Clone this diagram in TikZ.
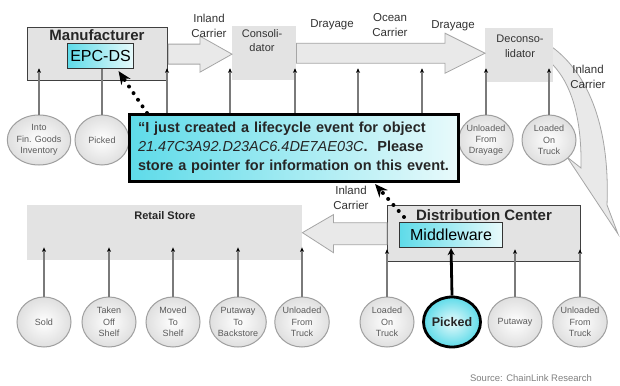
\documentclass[tikz,border=0pt]{standalone}
\usepackage{fontspec}
\setmainfont{Liberation Sans}
\usetikzlibrary{arrows.meta,calc,shapes.geometric}
\definecolor{boxgray}{HTML}{E3E3E3}
\definecolor{arrgray}{HTML}{E9E9E9}
\definecolor{arredge}{HTML}{A6A6A6}
\definecolor{linegray}{HTML}{7A7A7A}
\definecolor{txtgray}{HTML}{5A5A5A}
\definecolor{cyanA}{HTML}{5EDBE9}
\definecolor{cyanB}{HTML}{E8FAFB}
\begin{document}
\begin{tikzpicture}[x=1pt,y=-1pt,
  stage/.style={fill=boxgray,draw=none,anchor=north west,inner sep=0pt},
  site/.style={fill=boxgray,draw=black!75,line width=1.3pt,anchor=north west,inner sep=0pt},
  cyanbox/.style={left color=cyanA,right color=cyanB,draw=black!80,line width=1.1pt,anchor=north west,inner sep=0pt},
  evt/.style={ellipse,minimum width=54pt,minimum height=50pt,inner sep=0pt,draw=gray!75,line width=1pt,
    inner color=white,outer color=gray!25,font=\fontsize{9}{11.3}\selectfont,text=txtgray,align=center},
  flow/.style={fill=arrgray,draw=arredge,line width=0.8pt},
  feed/.style={draw=linegray,line width=1.1pt,-{Stealth[length=4.5pt,width=4pt,color=black]}},
  plainfeed/.style={draw=linegray,line width=1.1pt},
  hot/.style={draw=black,line width=2.8pt,-{Stealth[length=7pt,width=7pt]}},
  dotarrow/.style={draw=black,line width=4pt,dash pattern=on 0pt off 8pt,line cap=round,
    -{Stealth[length=13pt,width=11pt]}},
  boxtitle/.style={font=\fontsize{15}{15}\bfseries,text=black!85,inner sep=0pt},
  stagelbl/.style={font=\fontsize{11}{14.5}\selectfont,text=black!80,align=center,inner sep=0pt},
  carrier/.style={font=\fontsize{11.5}{15}\selectfont,text=black!80,align=center,inner sep=0pt}]
\useasboundingbox (0,0) rectangle (620,385);
\fill[white] (0,0) rectangle (620,385);

% curved inland carrier arrow
\path[flow] (552,47) .. controls (590,75) and (610,130) .. (607,205) -- (618,234) -- (567,157) -- (581,168)
  .. controls (582,115) and (570,80) .. (549,61) -- cycle;

% boxes
\node[site,minimum width=140pt,minimum height=53pt] (mfr) at (27,27) {};
\node[stage,minimum width=64pt,minimum height=54pt] (cons) at (232,26) {};
\node[stage,minimum width=68pt,minimum height=54pt] (decons) at (485,28) {};
\node[stage,minimum width=275pt,minimum height=55pt] (retail) at (27,205) {};
\node[site,minimum width=193pt,minimum height=56pt] (dc) at (387,205) {};

% block arrows
\path[flow] let \p1=(mfr.east), \p2=(cons.west) in
  (\x1,\y1+10pt) -- (\x2-32pt,\y1+10pt) -- (\x2-32pt,\y1+18pt) -- (\x2,\y1) -- (\x2-32pt,\y1-18pt)
  -- (\x2-32pt,\y1-10pt) -- (\x1,\y1-10pt) -- cycle;
\path[flow] let \p1=(cons.east), \p2=(decons.west) in
  (\x1,\y1+10pt) -- (\x2-40pt,\y1+10pt) -- (\x2-40pt,\y1+20pt) -- (\x2,\y1) -- (\x2-40pt,\y1-20pt)
  -- (\x2-40pt,\y1-10pt) -- (\x1,\y1-10pt) -- cycle;
\path[flow] let \p1=(dc.west), \p2=(retail.east) in
  (\x1,\y1+11pt) -- (\x2+31pt,\y1+11pt) -- (\x2+31pt,\y1+19pt) -- (\x2,\y1+1pt) -- (\x2+31pt,\y1-19pt)
  -- (\x2+31pt,\y1-11pt) -- (\x1,\y1-11pt) -- cycle;

% titles and labels
\node[boxtitle] (mfrt) at (97,35) {Manufacturer};
\node[cyanbox,minimum width=66pt,minimum height=25pt,font=\fontsize{16}{16}\selectfont] (epc) at (67,43) {EPC-DS};
\node[stagelbl] (consl) at (262,40.5) {Consoli-\\dator};
\node[stagelbl] (deconsl) at (520,46.5) {Deconso-\\lidator};
\node[boxtitle,font=\fontsize{11}{11}\bfseries] (retailt) at (165,216) {Retail Store};
\node[boxtitle] (dct) at (484,215) {Distribution Center};
\node[cyanbox,minimum width=103pt,minimum height=25pt,font=\fontsize{16}{16}\selectfont] (mw) at (399,222) {Middleware};

\node[carrier] (l1) at (209,25.5) {Inland\\Carrier};
\node[carrier] (l2) at (332,25) {Drayage};
\node[carrier] (l3) at (390,25.5) {Ocean\\Carrier};
\node[carrier] (l4) at (453,26) {Drayage};
\node[carrier] (l5) at (588,77) {Inland\\Carrier};
\node[carrier] (l6) at (351,198) {Inland\\Carrier};

% top event circles
\node[evt] (t1) at (39,140) {Into\\Fin. Goods\\Inventory};
\node[evt] (t2) at (102,140) {Picked};
\node[evt] (t8) at (486,140) {Unloaded\\From\\Drayage};
\node[evt] (t9) at (549,140) {Loaded\\On\\Truck};
\coordinate (t3) at (167,113);
\coordinate (t4) at (230,113);
\coordinate (t5) at (295,113);
\coordinate (t6) at (358,113);
\coordinate (t7) at (422,113);

\draw[feed] (t1.north) -- ($(t1.north |- mfr.south)+(0,-13)$);
\draw[plainfeed] (t2.north) -- (t2.north |- epc.south);
\foreach \c in {t3,t4,t5,t6,t7} \draw[feed] (\c) -- ($(\c |- mfr.south)+(0,-13)$);
\draw[feed] (t8.north) -- ($(t8.north |- mfr.south)+(0,-13)$);
\draw[feed] (t9.north) -- ($(t9.north |- mfr.south)+(0,-13)$);

% bottom event circles
\node[evt] (b1) at (44,322) {Sold};
\node[evt] (b2) at (109,322) {Taken\\Off\\Shelf};
\node[evt] (b3) at (173,322) {Moved\\To\\Shelf};
\node[evt] (b4) at (238,322) {Putaway\\To\\Backstore};
\node[evt] (b5) at (302,322) {Unloaded\\From\\Truck};
\node[evt] (b6) at (387,322) {Loaded\\On\\Truck};
\node[evt,draw=black,line width=2.8pt,inner color=cyanB,outer color=cyanA,
  font=\fontsize{12.5}{12.5}\bfseries,text=black!85] (pk) at (452,322) {Picked};
\node[evt] (b8) at (515,322) {Putaway};
\node[evt] (b9) at (580,322) {Unloaded\\From\\Truck};

\foreach \c in {b1,b2,b3,b4,b5} \draw[feed] (\c.north) -- ($(\c.north |- retail.south)+(0,-13)$);
\foreach \c in {b6,b8,b9} \draw[feed] (\c.north) -- ($(\c.north |- dc.south)+(0,-13)$);
\draw[hot] (pk.north) -- (mw.south);

% call-out
\node[anchor=north west,draw=black,line width=3pt,left color=cyanA,right color=cyanB,
  minimum width=329pt,minimum height=67pt,text width=312pt,inner xsep=8pt,align=left,
  font=\fontsize{14.5}{19}\bfseries,text=black!85] (msg) at (128,113)
  {“I just created a lifecycle event for object\\
   {\mdseries\itshape 21.47C3A92.D23AC6.4DE7AE03C}.\ \ Please\\
   store a pointer for information on this event.};

\draw[dotarrow] ($(msg.north west)+(19,0)$) -- ($(epc.south)+(18,2)$);
\draw[dotarrow] ($(mw.north west)+(5,-5)$) -- ($(msg.south east)+(-85,1)$);

\node[font=\fontsize{9.5}{9.5}\selectfont,text=gray] (src) at (531,378) {Source: ChainLink Research};
\end{tikzpicture}
\end{document}
